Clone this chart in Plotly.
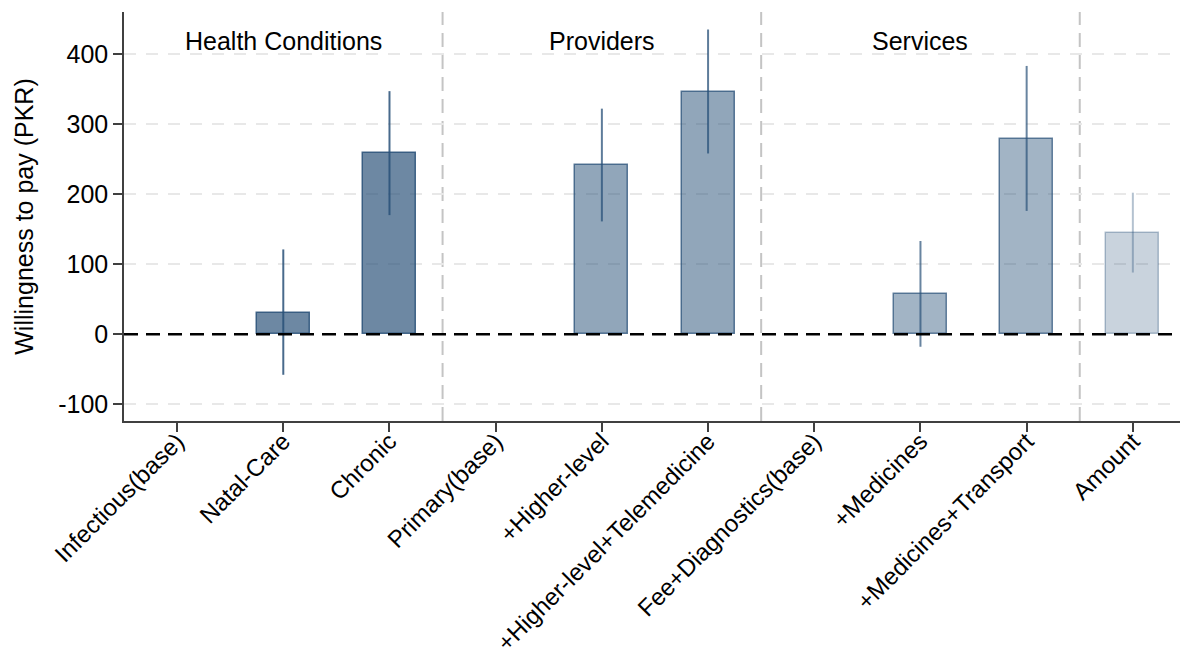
import plotly.graph_objects as go

# Attribute levels on the x axis
categories = [
    "Infectious(base)", "Natal-Care", "Chronic",
    "Primary(base)", "+Higher-level", "+Higher-level+Telemedicine",
    "Fee+Diagnostics(base)", "+Medicines", "+Medicines+Transport",
    "Amount",
]
# Willingness-to-pay estimates (PKR) with confidence bounds; base levels have no bar
wtp = [None, 30, 258, None, 241, 346, None, 57, 279, 145]
ci_low = [None, -58, 170, None, 161, 258, None, -18, 176, 88]
ci_high = [None, 121, 347, None, 322, 435, None, 133, 383, 202]
# Group each level belongs to
groups = ["hc", "hc", "hc", "pr", "pr", "pr", "sv", "sv", "sv", "amt"]
group_titles = ["Health Conditions", "Providers", "Services"]
group_centers = [1, 4, 7]
separators = [2.5, 5.5, 8.5]
y_ticks = [-100, 0, 100, 200, 300, 400]

base = (40, 80, 120)
fill_alpha = {"hc": 0.68, "pr": 0.51, "sv": 0.43, "amt": 0.25}
line_alpha = {"hc": 0.85, "pr": 0.75, "sv": 0.7, "amt": 0.35}


def rgba(a):
    return f"rgba({base[0]},{base[1]},{base[2]},{a})"


FONT = "Liberation Sans, Arial, sans-serif"
FS = 25

fig = go.Figure()
for i, cat in enumerate(categories):
    if wtp[i] is None:
        continue
    g = groups[i]
    fig.add_trace(go.Bar(
        x=[cat], y=[wtp[i]], width=0.5,
        marker=dict(color=rgba(fill_alpha[g]),
                    line=dict(color=rgba(line_alpha[g]), width=1.5)),
        error_y=dict(type="data", symmetric=False,
                     array=[ci_high[i] - wtp[i]],
                     arrayminus=[wtp[i] - ci_low[i]],
                     color=rgba(line_alpha[g]), thickness=2, width=0),
        showlegend=False, hoverinfo="skip",
    ))

shapes = []
for s in separators:
    shapes.append(dict(type="line", xref="x", yref="paper", x0=s, x1=s, y0=0, y1=1,
                       line=dict(color="#c4c4c4", width=2, dash="14px,8px"), layer="below"))
shapes.append(dict(type="line", xref="paper", yref="y", x0=0, x1=1, y0=0, y1=0,
                   line=dict(color="black", width=2.5, dash="14px,8px"), layer="above"))

annotations = [
    dict(x=c, y=0.929, xref="x", yref="paper", text=t, showarrow=False,
         font=dict(family=FONT, size=FS, color="black"), xanchor="center", yanchor="middle")
    for c, t in zip(group_centers, group_titles)
]

fig.update_layout(
    width=1180, height=662,
    margin=dict(l=124, r=0, t=12, b=241),
    paper_bgcolor="white", plot_bgcolor="white",
    font=dict(family=FONT, size=FS, color="black"),
    shapes=shapes, annotations=annotations,
    bargap=0,
)
fig.update_xaxes(
    type="category", categoryorder="array", categoryarray=categories,
    range=[-0.5, 9.444], tickangle=-45, automargin=False, ticklabelstandoff=-14,
    showline=True, linecolor="#404040", linewidth=1.5,
    ticks="outside", ticklen=9, tickwidth=1.5, tickcolor="#404040",
    showgrid=False, tickfont=dict(family=FONT, size=24),
)
fig.update_yaxes(
    range=[-124, 460], tickvals=y_ticks, ticktext=[str(v) for v in y_ticks],
    automargin=False,
    showline=True, linecolor="#404040", linewidth=1.5,
    ticks="outside", ticklen=9, tickwidth=1.5, tickcolor="#404040",
    showgrid=True, gridcolor="#e8e8e8", gridwidth=1.5, griddash="12px,10px",
    zeroline=False, tickfont=dict(family=FONT, size=FS),
    title=dict(text="Willingness to pay (PKR)", font=dict(family=FONT, size=FS), standoff=17),
)

fig.write_html("out.html")
